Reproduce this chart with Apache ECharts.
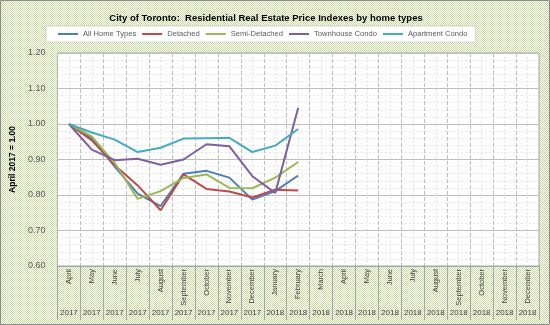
<!DOCTYPE html>
<html><head><meta charset="utf-8">
<script src="https://cdn.jsdelivr.net/npm/echarts@6/dist/echarts.min.js"></script>
<style>html,body{margin:0;padding:0;}#c{width:550px;height:325px;}</style>
</head><body><div id="c"></div>
<script>
const months = ['April','May','June','July','August','September','October','November','December','January','February','March','April','May','June','July','August','September','October','November','December'];
const years = ['2017','2017','2017','2017','2017','2017','2017','2017','2017','2018','2018','2018','2018','2018','2018','2018','2018','2018','2018','2018','2018'];
const allHome = [1.000, 0.960, 0.880, 0.804, 0.769, 0.860, 0.868, 0.849, 0.787, 0.811, 0.855];
const detached = [1.000, 0.954, 0.884, 0.827, 0.757, 0.858, 0.817, 0.810, 0.793, 0.815, 0.813];
const semiDetached = [1.000, 0.965, 0.890, 0.789, 0.811, 0.848, 0.858, 0.820, 0.819, 0.849, 0.893];
const townhouse = [1.000, 0.928, 0.898, 0.902, 0.885, 0.900, 0.943, 0.937, 0.853, 0.806, 1.046];
const apartment = [1.000, 0.976, 0.956, 0.921, 0.933, 0.959, 0.960, 0.961, 0.921, 0.939, 0.986];
const seriesNames = ['All Home Types','Detached','Semi-Detached','Townhouse Condo','Apartment Condo'];
const seriesData = [allHome, detached, semiDetached, townhouse, apartment];
const colors = ['#4A7EBB','#BE4B48','#98B954','#7D60A0','#46AAC5'];

// checkered background pattern
const pc = document.createElement('canvas'); pc.width = 2; pc.height = 2;
const px = pc.getContext('2d');
px.fillStyle = '#ffffff'; px.fillRect(0,0,2,2);
px.fillStyle = '#c9da9f'; px.fillRect(0,0,1,1); px.fillRect(1,1,1,1);

const chart = echarts.init(document.getElementById('c'));
const font = '"Liberation Sans", Arial, sans-serif';
chart.setOption({
  backgroundColor: {image: pc, repeat: 'repeat'},
  animation: false,
  color: colors,
  title: {
    text: 'City of Toronto:  Residential Real Estate Price Indexes by home types',
    left: 261, top: 8, textAlign: 'center',
    textStyle: {fontFamily: font, fontSize: 9.5, fontWeight: 'bold', color: '#000'}
  },
  legend: {
    left: 46, top: 26,
    padding: [4, 8, 4, 12],
    backgroundColor: '#ffffff',
    borderColor: '#bbbbbb', borderWidth: 1, borderType: 'dotted',
    itemWidth: 20, itemHeight: 2, itemGap: 6, icon: 'rect',
    textStyle: {fontFamily: font, fontSize: 7.6, color: '#595959'},
    data: seriesNames
  },
  graphic: [{type: 'rect', shape: {x: 0.5, y: 0.5, width: 549, height: 324}, style: {fill: null, stroke: '#8c8c8c', lineWidth: 1}, silent: true}],
  grid: {left: 55, right: 11, top: 53, bottom: 59, show: true, backgroundColor: '#ffffff', borderColor: '#a6a6a6', borderWidth: 1},
  xAxis: [
    {
      type: 'category', data: months, boundaryGap: true, position: 'bottom',
      axisLine: {lineStyle: {color: '#a6a6a6'}},
      axisTick: {show: true, interval: 0, length: 54, lineStyle: {color: '#a6a6a6'}},
      axisLabel: {interval: 0, rotate: 90, margin: 3, fontFamily: font, fontSize: 7.5, color: '#404040'},
      splitLine: {show: true, interval: 0, lineStyle: {color: '#bfbfbf', type: [4, 2]}}
    },
    {
      type: 'category', data: years, boundaryGap: true, position: 'bottom',
      axisLine: {show: false}, axisTick: {show: false},
      axisLabel: {interval: 0, margin: 43, fontFamily: font, fontSize: 8, color: '#404040'},
      splitLine: {show: false}
    },
    {
      type: 'value', min: 0, max: 21, interval: 1, position: 'top', show: true,
      axisLine: {show: false}, axisTick: {show: false}, axisLabel: {show: false},
      splitLine: {show: false},
      minorTick: {show: false, splitNumber: 2},
      minorSplitLine: {show: true, lineStyle: {color: '#d0d0d0', type: [1, 3]}}
    }
  ],
  yAxis: {
    type: 'value', min: 0.6, max: 1.2, interval: 0.1,
    name: 'April 2017 = 1.00', nameLocation: 'middle', nameGap: 33, nameRotate: 90,
    nameTextStyle: {fontFamily: font, fontSize: 8.5, fontWeight: 'bold', color: '#000'},
    axisLine: {show: false}, axisTick: {show: false},
    axisLabel: {formatter: v => v.toFixed(2), margin: 12, fontFamily: font, fontSize: 9, color: '#595959'},
    splitLine: {lineStyle: {color: '#bfbfbf', width: 1}},
    minorTick: {show: false, splitNumber: 5},
    minorSplitLine: {show: true, lineStyle: {color: '#d0d0d0', type: [1, 3]}}
  },
  series: seriesNames.map((n, i) => ({
    name: n, type: 'line', data: seriesData[i], xAxisIndex: 0,
    showSymbol: false, symbol: 'none',
    lineStyle: {width: 2, color: colors[i]}, itemStyle: {color: colors[i]}
  }))
});
</script></body></html>
